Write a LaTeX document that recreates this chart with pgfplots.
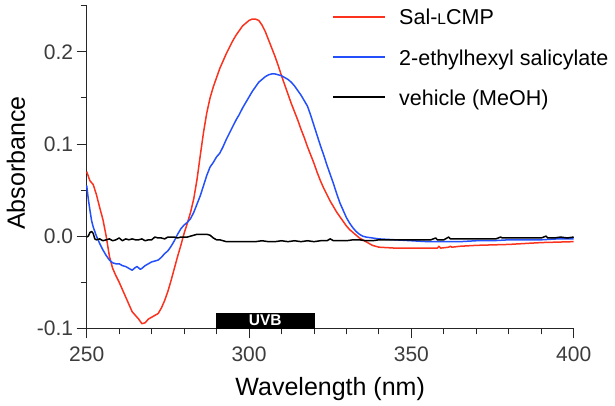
\documentclass[border=0pt]{standalone}
\usepackage{pgfplots}
\pgfplotsset{compat=1.18}
\usepackage{fontspec}
\setmainfont{Liberation Sans}
\definecolor{cred}{RGB}{250,50,30}
\definecolor{cblue}{RGB}{35,80,250}
\definecolor{tickgray}{RGB}{60,60,60}
\begin{document}
\begin{tikzpicture}
\begin{axis}[
  scale only axis,
  width=487pt, height=322.6pt,
  xmin=250, xmax=400, ymin=-0.1, ymax=0.25,
  axis lines=left,
  axis line style={-, line width=0.9pt, black!85},
  tick style={line width=0.9pt, black!85},
  tick align=outside,
  major tick length=10pt, minor tick length=6pt,
  xtick={250,300,350,400},
  minor x tick num=4,
  ytick={-0.1,0,0.1,0.2},
  yticklabels={-0.1,0.0,0.1,0.2},
  minor ytick={-0.05,0.05,0.15,0.25},
  /pgf/number format/assume math mode=true,
  ticklabel style={font=\fontsize{21}{21}\selectfont, text=tickgray},
  xticklabel style={yshift=-5pt},
  yticklabel style={xshift=0pt},
  xlabel={Wavelength (nm)},
  ylabel={Absorbance},
  label style={font=\fontsize{25}{25}\selectfont},
  xlabel style={at={(axis description cs:0.5,-0.2068)}, anchor=base},
  ylabel style={at={(axis description cs:-0.127,0.512)}, anchor=base, rotate=0},
  clip=false,
]
\addplot[color=cred, line width=1.5pt, line join=round] coordinates {
(250,0.070) (251,0.060) (252,0.056) (253,0.045) (254,0.031) (255,0.018) (256,0.000)
(257,-0.022) (258,-0.035) (259,-0.043) (260,-0.050) (261,-0.058) (262,-0.066)
(263,-0.074) (264,-0.082) (265,-0.086) (266,-0.090) (267,-0.095) (268,-0.094)
(269,-0.090) (270,-0.088) (271,-0.086) (272,-0.084) (273,-0.078) (274,-0.070)
(275,-0.060) (276,-0.048) (277,-0.035) (278,-0.022) (279,-0.010) (280,0.003)
(281,0.014) (282,0.026) (283,0.041) (284,0.062) (285,0.088) (286,0.113)
(287,0.134) (288,0.150) (289,0.162) (290,0.172) (291,0.182) (292,0.190)
(293,0.198) (294,0.205) (295,0.212) (296,0.218) (297,0.223) (298,0.228)
(299,0.231) (300,0.234) (301,0.2355) (302,0.2355) (303,0.234) (304,0.229)
(305,0.222) (306,0.213) (307,0.204) (308,0.195) (309,0.185) (310,0.174)
(311,0.164) (312,0.154) (313,0.144) (314,0.135) (315,0.126) (316,0.116)
(317,0.107) (318,0.097) (319,0.088) (320,0.079) (321,0.069) (322,0.060)
(323,0.052) (324,0.045) (325,0.038) (326,0.032) (327,0.026) (328,0.021)
(329,0.016) (330,0.011) (331,0.007) (332,0.004) (333,0.001) (334,-0.002)
(335,-0.004) (336,-0.006) (337,-0.008) (338,-0.010) (339,-0.011) (340,-0.012)
(345,-0.013) (350,-0.013) (355,-0.013) (358,-0.013) (358.5,-0.011) (359,-0.013)
(361.5,-0.012) (362,-0.011) (362.5,-0.012) (365,-0.011) (370,-0.010)
(375,-0.0095) (380,-0.009) (385,-0.008) (390,-0.007) (395,-0.0065) (400,-0.006)
};
\addplot[color=cblue, line width=1.5pt, line join=round] coordinates {
(250,0.055) (250.5,0.040) (251,0.028) (251.5,0.017) (252,0.010) (253,0.000)
(254,-0.008) (255,-0.015) (256,-0.021) (257,-0.026) (258,-0.029) (259,-0.030)
(260,-0.030) (261,-0.032) (262,-0.033) (263,-0.035) (264,-0.037) (265,-0.034)
(265.5,-0.033) (266.5,-0.036) (267,-0.035) (268,-0.032) (269,-0.030) (270,-0.028)
(271,-0.027) (272,-0.026) (273,-0.023) (274,-0.019) (275,-0.016) (276,-0.011)
(277,-0.005) (278,0.002) (279,0.008) (280,0.012) (281,0.015) (282,0.019)
(283,0.026) (284,0.035) (285,0.044) (286,0.055) (287,0.066) (288,0.075)
(289,0.080) (290,0.086) (291,0.090) (292,0.097) (293,0.105) (294,0.112)
(295,0.119) (296,0.126) (297,0.132) (298,0.139) (299,0.145) (300,0.151)
(301,0.157) (302,0.162) (303,0.167) (304,0.170) (305,0.173) (306,0.175)
(307,0.176) (308,0.176) (309,0.175) (310,0.174) (311,0.172) (312,0.170)
(313,0.167) (314,0.163) (315,0.158) (316,0.153) (317,0.147) (318,0.141)
(319,0.131) (320,0.120) (321,0.109) (322,0.098) (323,0.088) (324,0.077)
(325,0.067) (326,0.057) (327,0.046) (328,0.036) (329,0.028) (330,0.020)
(331,0.014) (332,0.009) (333,0.005) (334,0.002) (335,0.000) (336,-0.001)
(338,-0.002) (340,-0.003) (345,-0.004) (350,-0.005) (355,-0.006) (360,-0.006)
(365,-0.006) (370,-0.005) (375,-0.005) (380,-0.004) (385,-0.004) (390,-0.004)
(395,-0.003) (400,-0.003)
};
\addplot[color=black, line width=1.5pt, line join=round] coordinates {
(250,-0.001) (250.5,0.000) (251,0.004) (251.5,0.005) (252,0.003) (252.5,-0.003)
(253,-0.004) (254,-0.003) (255,-0.005) (256,-0.004) (257,-0.003) (258,-0.005)
(259,-0.004) (260,-0.002) (261,-0.005) (262,-0.003) (263,-0.004) (264,-0.003)
(265,-0.004) (266,-0.004) (267,-0.003) (268,-0.005) (269,-0.004) (270,-0.004)
(271,-0.001) (272,-0.002) (273,-0.002) (274,-0.003) (275,-0.001) (276,-0.001)
(277,-0.001) (278,-0.002) (279,-0.001) (280,-0.001) (281,-0.001) (282,0.000)
(283,0.001) (284,0.002) (285,0.002) (286,0.002) (287,0.002) (288,0.001)
(289,-0.002) (290,-0.004) (291,-0.004) (292,-0.005) (293,-0.006) (294,-0.006)
(296,-0.006) (298,-0.006) (300,-0.006) (302,-0.006) (304,-0.005) (306,-0.006)
(308,-0.006) (310,-0.005) (312,-0.006) (314,-0.005) (316,-0.006) (318,-0.005)
(320,-0.006) (322,-0.005) (324,-0.005) (325,-0.003) (326,-0.005) (328,-0.005)
(330,-0.005) (332,-0.004) (334,-0.004) (336,-0.005) (338,-0.005) (340,-0.004)
(342,-0.004) (344,-0.004) (346,-0.004) (348,-0.004) (350,-0.004) (352,-0.004)
(354,-0.004) (356,-0.004) (357.5,-0.002) (358,-0.004) (360,-0.004) (361.5,-0.001)
(362,-0.003) (364,-0.003) (366,-0.003) (368,-0.003) (370,-0.003) (372,-0.003)
(374,-0.003) (376,-0.003) (377.5,-0.001) (378,-0.002) (380,-0.002) (382,-0.002)
(384,-0.002) (386,-0.002) (388,-0.002) (390,-0.002) (391.5,0.000) (392,-0.002)
(394,-0.002) (396,-0.001) (398,-0.002) (400,-0.001)
};
\addplot[fill=black, draw=black, line width=0.5pt] coordinates {
(290,-0.1) (320,-0.1) (320,-0.0837) (290,-0.0837)} -- cycle;
\node[anchor=base, text=white, font=\bfseries\fontsize{15.5}{15.5}\selectfont, inner sep=0pt]
  at (axis cs:305,-0.0975) {UVB};
% legend
\draw[cred, line width=1.5pt] (axis description cs:0.5064,0.965) -- (axis description cs:0.6125,0.965);
\draw[cblue, line width=1.5pt] (axis description cs:0.5064,0.841) -- (axis description cs:0.6125,0.841);
\draw[black, line width=1.5pt] (axis description cs:0.5064,0.717) -- (axis description cs:0.6125,0.717);
\node[anchor=base west, inner sep=0pt, font=\fontsize{21.5}{21.5}\selectfont]
  at (axis description cs:0.6413,0.9402) {Sal-{\fontsize{15.5}{15.5}\selectfont L}CMP};
\node[anchor=base west, inner sep=0pt, font=\fontsize{21.5}{21.5}\selectfont]
  at (axis description cs:0.6413,0.816) {2-ethylhexyl salicylate};
\node[anchor=base west, inner sep=0pt, font=\fontsize{21.5}{21.5}\selectfont]
  at (axis description cs:0.6413,0.692) {vehicle (MeOH)};
\end{axis}
\path (-86.7pt,-77.7pt) rectangle (528.3pt,328.3pt);
\end{tikzpicture}
\end{document}
